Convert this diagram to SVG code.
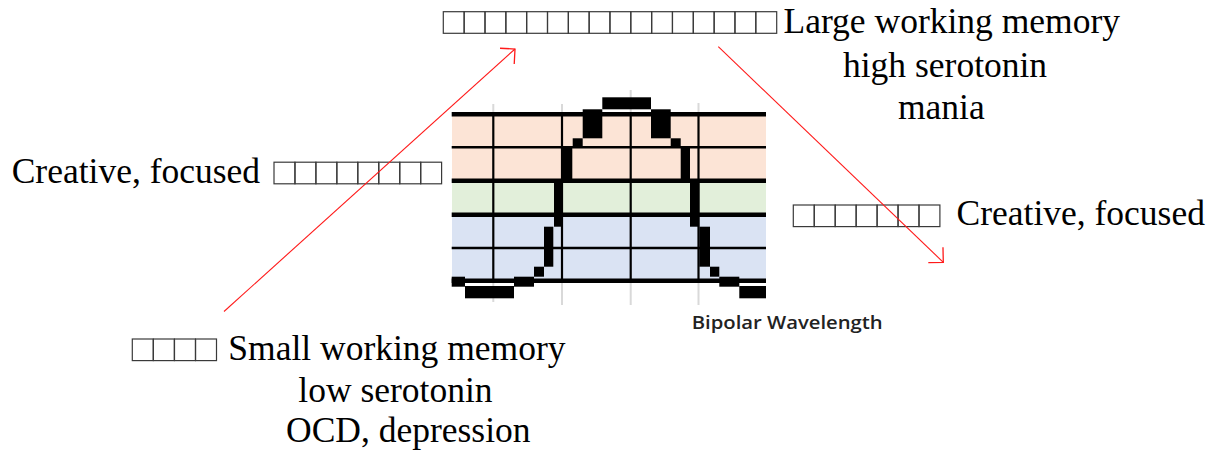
<svg xmlns="http://www.w3.org/2000/svg" xmlns:xlink="http://www.w3.org/1999/xlink" width="1222" height="454" viewBox="0 0 1222 454">
<style>
.t{font-family:"Liberation Serif","Times New Roman",serif;font-size:35.5px;fill:#000}
.tofu{fill:none;stroke:#3a3a3a;stroke-width:1.2}
.grid{stroke:#000;stroke-width:2.2}
.hthick{stroke:#000;stroke-width:4.6}
.hthin{stroke:#000;stroke-width:2.6}
.gray{stroke:#d9d9d9;stroke-width:2}
.blk{fill:#000}
.arrow{stroke:#ff1a1a;stroke-width:1.1;fill:none;marker-end:url(#ah)}
.ax{font-family:"Open Sans","DejaVu Sans",sans-serif;font-weight:600;font-size:18px;fill:#222}
</style>
<defs>
<marker id="ah" viewBox="-20 -20 40 40" markerWidth="40" markerHeight="40" refX="0" refY="0" orient="auto" markerUnits="userSpaceOnUse">
<path d="M-10.6,-10.6 L0,0 L-10.6,10.6" fill="none" stroke="#ff1a1a" stroke-width="1.3"/>
</marker>
<rect id="tb" width="20.9" height="21.6"/>
</defs>
<rect width="1222" height="454" fill="#fff"/>

<g id="chart">
<line class="gray" x1="493.3" y1="104" x2="493.3" y2="302"/>
<line class="gray" x1="562" y1="104" x2="562" y2="305"/>
<line class="gray" x1="630.7" y1="90" x2="630.7" y2="305"/>
<line class="gray" x1="698.5" y1="103" x2="698.5" y2="305"/>
<rect x="452" y="114" width="314" height="67" fill="#fce4d6"/>
<rect x="452" y="181" width="314" height="34" fill="#e2efda"/>
<rect x="452" y="215" width="314" height="66" fill="#dae3f3"/>
<line class="grid" x1="493.3" y1="114" x2="493.3" y2="281"/>
<line class="grid" x1="562" y1="114" x2="562" y2="281"/>
<line class="grid" x1="630.7" y1="114" x2="630.7" y2="281"/>
<line class="grid" x1="698.5" y1="114" x2="698.5" y2="281"/>
<line class="hthick" x1="451.7" y1="114.3" x2="766" y2="114.3"/>
<line class="hthin" x1="451.7" y1="147.3" x2="766" y2="147.3"/>
<line class="hthick" x1="451.7" y1="180.8" x2="766" y2="180.8"/>
<line class="hthick" x1="451.7" y1="214.8" x2="766" y2="214.8"/>
<line class="hthin" x1="451.7" y1="248" x2="766" y2="248"/>
<line class="hthick" x1="451.7" y1="280.8" x2="766" y2="280.8"/>
<rect class="blk" x="602.3" y="97.3" width="48.7" height="12"/>
<rect class="blk" x="582.7" y="109.3" width="19.6" height="29"/>
<rect class="blk" x="572.7" y="138.3" width="10" height="9"/>
<rect class="blk" x="562" y="147.3" width="10.3" height="33.4"/>
<rect class="blk" x="554" y="180.7" width="8" height="46"/>
<rect class="blk" x="544" y="226.7" width="9.3" height="40"/>
<rect class="blk" x="534" y="266.7" width="10" height="10"/>
<rect class="blk" x="514" y="276.7" width="20" height="10"/>
<rect class="blk" x="465" y="286" width="49" height="12.3"/>
<rect class="blk" x="451.7" y="276.7" width="13.3" height="10"/>
<rect class="blk" x="651" y="109.3" width="19.7" height="29"/>
<rect class="blk" x="670.7" y="138.3" width="10" height="9"/>
<rect class="blk" x="680.7" y="147.3" width="9.3" height="33.4"/>
<rect class="blk" x="690" y="180.7" width="9.3" height="46"/>
<rect class="blk" x="699.3" y="226.7" width="10.7" height="40"/>
<rect class="blk" x="710" y="266.7" width="9.3" height="10"/>
<rect class="blk" x="719.3" y="276.7" width="20" height="10"/>
<rect class="blk" x="739.3" y="286" width="26.7" height="12.3"/>
</g>

<g id="axis-label">
<text class="ax" x="691.7" y="329" textLength="191" lengthAdjust="spacingAndGlyphs">Bipolar Wavelength</text>
</g>

<g id="top-label">
<g class="tofu">
<use xlink:href="#tb" x="443.3" y="11.7"/><use xlink:href="#tb" x="464.1" y="11.7"/><use xlink:href="#tb" x="485" y="11.7"/><use xlink:href="#tb" x="505.8" y="11.7"/>
<use xlink:href="#tb" x="526.6" y="11.7"/><use xlink:href="#tb" x="547.5" y="11.7"/><use xlink:href="#tb" x="568.3" y="11.7"/><use xlink:href="#tb" x="589.1" y="11.7"/>
<use xlink:href="#tb" x="609.9" y="11.7"/><use xlink:href="#tb" x="630.8" y="11.7"/><use xlink:href="#tb" x="651.6" y="11.7"/><use xlink:href="#tb" x="672.4" y="11.7"/>
<use xlink:href="#tb" x="693.3" y="11.7"/><use xlink:href="#tb" x="714.1" y="11.7"/><use xlink:href="#tb" x="734.9" y="11.7"/><use xlink:href="#tb" x="755.8" y="11.7"/>
</g>
<text class="t" x="783.5" y="33">Large working memory</text>
<text class="t" x="843" y="77">high serotonin</text>
<text class="t" x="898" y="118.5">mania</text>
</g>

<g id="left-label">
<text class="t" x="11.7" y="183">Creative, focused</text>
<g class="tofu">
<use xlink:href="#tb" x="274" y="162.2"/><use xlink:href="#tb" x="295" y="162.2"/><use xlink:href="#tb" x="315.9" y="162.2"/><use xlink:href="#tb" x="336.9" y="162.2"/>
<use xlink:href="#tb" x="357.8" y="162.2"/><use xlink:href="#tb" x="378.8" y="162.2"/><use xlink:href="#tb" x="399.8" y="162.2"/><use xlink:href="#tb" x="420.7" y="162.2"/>
</g>
</g>

<g id="right-label">
<g class="tofu">
<use xlink:href="#tb" x="793.3" y="205"/><use xlink:href="#tb" x="814.3" y="205"/><use xlink:href="#tb" x="835.2" y="205"/><use xlink:href="#tb" x="856.2" y="205"/>
<use xlink:href="#tb" x="877.1" y="205"/><use xlink:href="#tb" x="898.1" y="205"/><use xlink:href="#tb" x="919" y="205"/>
</g>
<text class="t" x="956.5" y="225">Creative, focused</text>
</g>

<g id="bottom-label">
<g class="tofu">
<use xlink:href="#tb" x="132.3" y="339"/><use xlink:href="#tb" x="153.4" y="339"/><use xlink:href="#tb" x="174.5" y="339"/><use xlink:href="#tb" x="195.6" y="339"/>
</g>
<text class="t" x="228.3" y="360">Small working memory</text>
<text class="t" x="298.3" y="401.5">low serotonin</text>
<text class="t" x="286" y="441.5">OCD, depression</text>
</g>

<g id="connectors">
<line class="arrow" x1="224" y1="311.5" x2="515" y2="49"/>
<line class="arrow" x1="718.3" y1="46.7" x2="943.3" y2="262.3"/>
</g>
</svg>
